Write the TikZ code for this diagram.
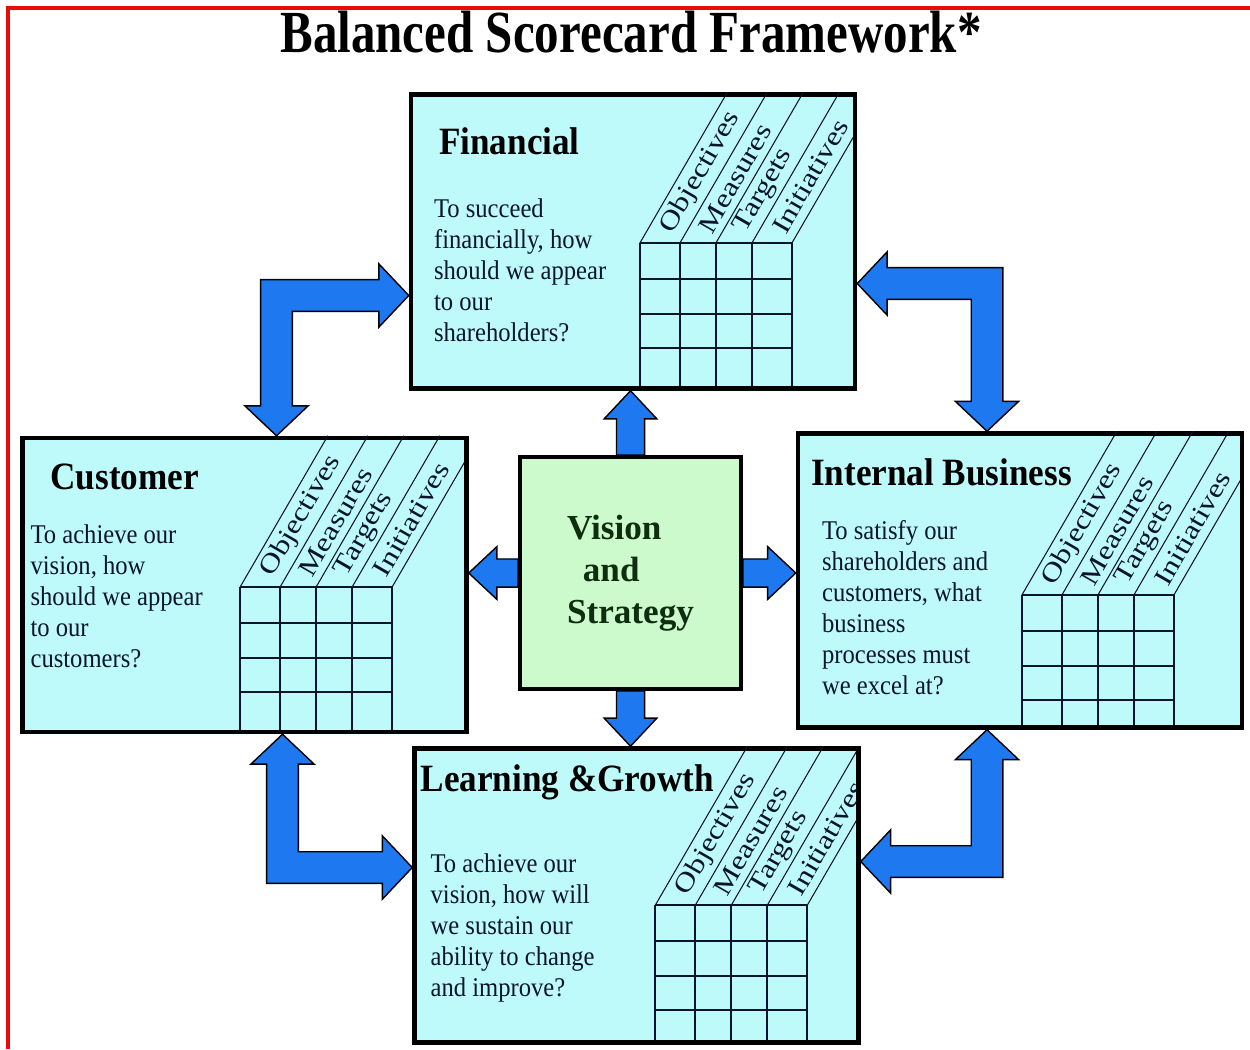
\documentclass[tikz,border=0pt]{standalone}
\usepackage{fontspec}
\setmainfont{Liberation Serif}
\usetikzlibrary{calc,positioning,backgrounds}

\definecolor{cardcyan}{RGB}{190,250,250}
\definecolor{visgreen}{RGB}{204,250,204}
\definecolor{vistext}{RGB}{15,45,15}
\definecolor{arrowblue}{RGB}{30,120,240}
\definecolor{framered}{RGB}{235,10,10}
\definecolor{inkblue}{RGB}{10,20,45}

\tikzset{
    %Define style for the four perspectives
    card/.style={
           rectangle,
           draw=black, line width=2.6pt,
           fill=cardcyan,
           minimum width=8.88cm,
           minimum height=5.88cm,
           inner sep=0pt},
    visbox/.style={
           rectangle,
           draw=black, line width=2.2pt,
           fill=visgreen,
           minimum width=4.42cm,
           minimum height=4.64cm,
           align=left,
           text=vistext,
           font=\fontsize{20}{24}\selectfont\bfseries},
    maintitle/.style={
           anchor=base, inner sep=0pt, xscale=0.82,
           font=\fontsize{34}{34}\selectfont\bfseries},
    cardtitle/.style={
           anchor=base west, inner sep=0pt, yscale=1.1,
           font=\fontsize{20}{20}\selectfont\bfseries},
    cardtext/.style={
           anchor=north west, inner sep=0pt, align=left, yscale=1.1,
           text=inkblue,
           font=\fontsize{14}{16}\selectfont},
    colhead/.style={
           anchor=west, inner sep=0pt, rotate=60, xscale=1.2,
           text=inkblue,
           font=\fontsize{15}{15}\selectfont},
    gridline/.style={draw=inkblue, line width=1.1pt},
    slantline/.style={draw=inkblue, line width=0.6pt},
    % Define block arrow style
    bsarrow/.style={fill=arrowblue, draw=black, line width=0.8pt, line join=miter}
}

% table of objectives / measures / targets / initiatives
\newcommand{\kpigrid}[3]{%
  \begin{scope}[shift={(#1.north west)}]
    \clip (0,0) rectangle (444,294);
    \foreach \c in {0,40,76,112,152}{
      \draw[gridline] (#2+\c,#3) -- (#2+\c,294);
      \draw[slantline] (#2+\c,#3) -- ++(0.58*#3,-#3);
    }
    \foreach \r in {0,36,71,105}
      \draw[gridline] (#2,#3+\r) -- (#2+152,#3+\r);
    \foreach \t/\m in {Objectives/20,Measures/58,Targets/94,Initiatives/132}
      \node[colhead] (#1-\t) at (#2+\m+7,#3-12) {\t};
  \end{scope}}

% straight block arrow, tail #1, tip #2
\newcommand{\stubarrow}[2]{%
  \draw[bsarrow] let \p1=(#1), \p2=(#2),
      \n1={(\x2>\x1)-(\x2<\x1)}, \n2={(\y2>\y1)-(\y2<\y1)} in
    ({\x1-(\n2)*8pt},{\y1+(\n1)*8pt})
    -- ({\x2-(\n1)*16pt-(\n2)*8pt},{\y2-(\n2)*16pt+(\n1)*8pt})
    -- ({\x2-(\n1)*16pt-(\n2)*15pt},{\y2-(\n2)*16pt+(\n1)*15pt})
    -- (\x2,\y2)
    -- ({\x2-(\n1)*16pt+(\n2)*15pt},{\y2-(\n2)*16pt-(\n1)*15pt})
    -- ({\x2-(\n1)*16pt+(\n2)*8pt},{\y2-(\n2)*16pt-(\n1)*8pt})
    -- ({\x1+(\n2)*8pt},{\y1-(\n1)*8pt})
    -- cycle;}

% bent block arrow with two heads, horizontal tip #1, vertical tip #2
\newcommand{\elbowarrow}[2]{%
  \draw[bsarrow] let \p1=(#1), \p2=(#2),
      \n1={(\x1>\x2)-(\x1<\x2)}, \n2={(\y2>\y1)-(\y2<\y1)} in
    ({\x2-(\n1)*9pt},{\y1-(\n2)*9pt})
    -- ({\x1-(\n1)*17pt},{\y1-(\n2)*9pt})
    -- ({\x1-(\n1)*17pt},{\y1-(\n2)*18pt})
    -- (\x1,\y1)
    -- ({\x1-(\n1)*17pt},{\y1+(\n2)*18pt})
    -- ({\x1-(\n1)*17pt},{\y1+(\n2)*9pt})
    -- ({\x2+(\n1)*9pt},{\y1+(\n2)*9pt})
    -- ({\x2+(\n1)*9pt},{\y2-(\n2)*17pt})
    -- ({\x2+(\n1)*18pt},{\y2-(\n2)*17pt})
    -- (\x2,\y2)
    -- ({\x2-(\n1)*18pt},{\y2-(\n2)*17pt})
    -- ({\x2-(\n1)*9pt},{\y2-(\n2)*17pt})
    -- cycle;}

\begin{document}
\begin{tikzpicture}[x=0.02cm,y=-0.02cm]
\useasboundingbox (0,0) rectangle (1250,1049);
\draw[framered, line width=2.3pt] (8,1049) -- (8,8) -- (1250,8);

\node[maintitle] (title) at (631,52) {Balanced Scorecard Framework*};

 %boxes
\node[card] (fin) at (633,241.5) {};
\node[card] (cus) at (244.5,585) {};
\node[card] (ib) at (1020,580.5) {};
\node[card] (lg) at (636.5,895.5) {};
\node[visbox] (vis) at (630.5,573) {Vision\\\hspace*{9pt}and\\Strategy};

 %titles and questions
\node[cardtitle] (fin-title) at ($(fin.north west)+(30,62)$) {Financial};
\node[cardtext] (fin-text) at ($(fin.north west)+(25,106)$)
  {To succeed\\financially, how\\should we appear\\to our\\shareholders?};
\node[cardtitle] (cus-title) at ($(cus.north west)+(30,54)$) {Customer};
\node[cardtext] (cus-text) at ($(cus.north west)+(10,89)$)
  {To achieve our\\vision, how\\should we appear\\to our\\customers?};
\node[cardtitle] (ib-title) at ($(ib.north west)+(15,54)$) {Internal Business};
\node[cardtext] (ib-text) at ($(ib.north west)+(26,89)$)
  {To satisfy our\\shareholders and\\customers, what\\business\\processes must\\we excel at?};
\node[cardtitle] (lg-title) at ($(lg.north west)+(8,45)$) {Learning \&Growth};
\node[cardtext] (lg-text) at ($(lg.north west)+(18,107)$)
  {To achieve our\\vision, how will\\we sustain our\\ability to change\\and improve?};

 %tables
\kpigrid{fin}{231}{151}
\kpigrid{cus}{220}{151}
\kpigrid{ib}{226}{164}
\kpigrid{lg}{243}{159}

 %arrow tips
\coordinate (tl-h) at ($(fin.west)+(0,54)$);
\coordinate (tl-v) at ($(cus.north)+(32,0)$);
\coordinate (tr-h) at ($(fin.east)+(0,42)$);
\coordinate (tr-v) at ($(ib.north)+(-33,0)$);
\coordinate (bl-h) at ($(lg.west)+(0,-28)$);
\coordinate (bl-v) at ($(cus.south)+(38,0)$);
\coordinate (br-h) at ($(lg.east)+(0,-34)$);
\coordinate (br-v) at ($(ib.south)+(-33,0)$);

\begin{pgfonlayer}{background}
  \stubarrow{vis.north}{vis.north |- fin.south}
  \stubarrow{vis.south}{vis.south |- lg.north}
  \stubarrow{vis.west}{vis.west -| cus.east}
  \stubarrow{vis.east}{vis.east -| ib.west}
  \elbowarrow{tl-h}{tl-v}
  \elbowarrow{tr-h}{tr-v}
  \elbowarrow{bl-h}{bl-v}
  \elbowarrow{br-h}{br-v}
\end{pgfonlayer}
\end{tikzpicture}
\end{document}
